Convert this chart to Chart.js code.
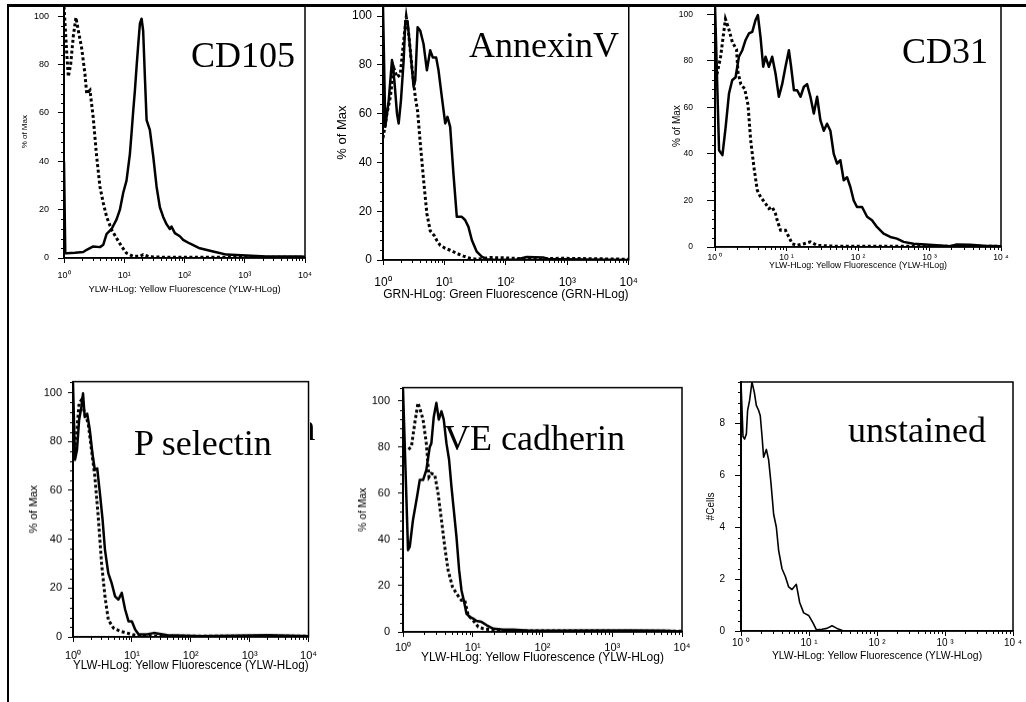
<!DOCTYPE html>
<html>
<head>
<meta charset="utf-8">
<script src="https://cdn.jsdelivr.net/npm/chart.js@4.4.0/dist/chart.umd.min.js"></script>
<style>
body{margin:0;background:#fff;width:1026px;height:702px;overflow:hidden;position:relative}
canvas{position:absolute}
.lbl{position:absolute;font-family:"Liberation Serif","Times New Roman",serif;font-size:36px;line-height:36px;white-space:nowrap;color:#000}
.rule{position:absolute;background:#000}
.clip{position:absolute;overflow:hidden}
</style>
</head>
<body>
<div class="rule" style="left:7px;top:4px;width:1019px;height:3px"></div>
<div class="rule" style="left:7px;top:4px;width:2px;height:698px"></div>

<script>
// x axis: fluorescence (log), y axis: % of max / #cells
const superDigits = ['⁰', '¹', '²', '³', '⁴']
const yellowTitle = 'YLW-HLog: Yellow Fluorescence (YLW-HLog)'
const greenTitle = 'GRN-HLog: Green Fluorescence (GRN-HLog)'

// CD105
const cd105SolidX = [1, 1.05, 1.11, 1.52, 2.09, 2.38, 3.06, 3.95, 4.49, 5.1, 6.17, 7.46, 8.47, 9.62, 10.9, 12.4, 13.2, 14.1, 15.0, 16.0, 17.1, 18.2, 19.4, 20.6, 22.0, 23.5, 26.6, 30.3, 34.4, 39.0, 44.3, 50.3, 57.1, 60.9, 69.2, 83.7, 95, 122, 179, 299, 497, 1066, 2286, 8166, 10000]
const cd105SolidY = [40, 2, 2, 2.2, 2.5, 3.4, 4.8, 4.5, 5.5, 10, 12, 16, 20, 27, 32, 43, 51.5, 61, 69, 79, 88.6, 97, 99, 94, 75, 57, 53, 42, 29.5, 21, 17, 14, 12, 13, 10.3, 9, 7.5, 6, 4, 2.7, 1.4, 1, 0.6, 0.6, 0.5]
const cd105DotX = [1, 1.11, 1.18, 1.29, 1.43, 1.58, 1.73, 1.96, 2.23, 2.38, 2.70, 3.06, 3.48, 3.95, 4.49, 5.1, 6.17, 7.46, 9.03, 10.9, 14.1, 18.2, 20.6, 26.6, 50, 179, 641, 2286, 10000]
const cd105DotY = [104, 85, 75, 80, 92, 99.5, 94, 87, 76, 68, 69.4, 58, 42, 29.5, 22.7, 17, 11.7, 8.2, 4.8, 2, 0.7, 0.7, 1.4, 0.5, 0.3, 0.3, 0.3, 0.3, 0.3]

// AnnexinV
const annexSolidX = [1, 1.09, 1.24, 1.40, 1.53, 1.69, 1.80, 1.96, 2.17, 2.31, 2.51, 2.78, 3.15, 3.35, 3.66, 4.04, 4.57, 5.18, 5.87, 6.48, 7.34, 8.01, 9.08, 10.3, 11.2, 12.4, 14.0, 15.9, 19.2, 21.7, 24.6, 27.9, 33.6, 40.5, 48.9, 71, 150, 218, 406, 500, 859, 10000]
const annexSolidY = [104, 54.6, 65.5, 82, 73.7, 60, 56, 65.5, 82, 98, 98, 86, 71, 73.7, 95.5, 94, 88.6, 77.8, 86, 83, 83, 77.8, 66.8, 56, 58.7, 54.6, 35.5, 17.7, 17.7, 16.4, 13.6, 8.2, 3.4, 1.4, 0.3, 0, 0.2, 1.2, 1.0, 0.3, 0.3, 0]
const annexDotX = [1, 1.16, 1.32, 1.49, 1.69, 1.91, 2.17, 2.39, 2.61, 2.96, 3.35, 3.66, 4.04, 4.57, 5.18, 5.87, 6.82, 7.53, 8.53, 10.3, 12.4, 15.9, 20.4, 26.2, 33.6, 55.3, 91, 192, 460, 859, 2985, 10000]
const annexDotY = [50, 60, 67, 79, 75, 76, 90, 99.6, 93, 79, 67, 61, 48, 33, 19, 12, 10, 8, 6, 4.8, 4, 2.7, 1.6, 0.7, 0.3, 1, 0.9, 0.5, 0.6, 0.7, 0.5, 0.3]

// CD31
const cd31SolidX = [1, 1.14, 1.27, 1.41, 1.57, 1.74, 1.94, 2.16, 2.41, 2.68, 2.98, 3.32, 3.69, 3.98, 4.34, 4.72, 5.09, 5.67, 6.31, 7.02, 7.82, 8.70, 9.68, 10.8, 11.6, 12.7, 14.1, 15.7, 17.5, 19.4, 21.6, 24.1, 26.8, 29.8, 33.2, 36.9, 41.1, 45.8, 50.9, 56.7, 63.1, 70.3, 78.2, 87.1, 96.8, 114, 134, 157, 184, 228, 283, 350, 434, 598, 1265, 1941, 2405, 3690, 5666, 10000]
const cd31SolidY = [104, 41.6, 39.5, 51.6, 66, 71.7, 73, 81.8, 84.6, 89, 91.8, 92.5, 97.6, 99.7, 90, 77.5, 81.8, 77.5, 81.8, 74.6, 64.6, 70, 77.5, 84.6, 77.5, 67.4, 67.4, 64.6, 68.9, 70, 64.6, 57.4, 64.6, 54.5, 50, 53, 50, 40, 35.9, 37.3, 28.7, 30, 25.8, 20, 17.2, 17.2, 13, 11.5, 8.6, 5.7, 4.3, 3.6, 2.2, 1.4, 0.7, 0.3, 1.1, 1.0, 0.5, 0.3]
const cd31DotX = [1, 1.08, 1.2, 1.4, 1.55, 1.75, 2.0, 2.1, 2.3, 2.6, 2.9, 3.15, 3.50, 3.90, 4.34, 5.09, 5.67, 6.31, 7.02, 7.41, 8.25, 9.68, 10.8, 12.0, 14.1, 17.5, 21.6, 26.8, 50.9, 10000]
const cd31DotY = [72, 75, 82, 98, 94, 88, 85, 75, 70, 68, 61, 46, 34.4, 24.4, 21.5, 18.7, 16.5, 17.2, 14.3, 11.5, 7.2, 7.2, 4.3, 1.4, 0.7, 1.4, 2.2, 0.7, 0.3, 0.3]

// P selectin
const pselSolidX = [1, 1.08, 1.17, 1.27, 1.39, 1.48, 1.58, 1.74, 1.93, 2.14, 2.35, 2.58, 2.86, 3.18, 3.49, 3.98, 4.54, 5.18, 5.91, 6.74, 7.69, 8.77, 10.0, 11.4, 13.0, 18.1, 23.5, 39.8, 148, 2061, 10000]
const pselSolidY = [104, 72.5, 76.6, 88.8, 94.3, 99.7, 90, 91.4, 84.7, 75, 68.4, 69, 59, 48, 35.7, 26, 22, 16.6, 15.3, 18, 11.2, 6.4, 6.4, 3, 1, 1, 1.6, 0.7, 0.3, 0.7, 0.3]
const pselDotX = [1, 1.14, 1.27, 1.39, 1.58, 1.81, 2.06, 2.35, 2.68, 3.06, 3.49, 3.98, 4.85, 6.31, 8.21, 10, 13.9, 10000]
const pselDotY = [74, 82, 95.6, 97, 91.4, 87.5, 76.6, 65.7, 49.3, 30, 16.6, 7, 3.7, 2.3, 1.6, 1, 0.3, 0.3]

// VE cadherin
const vecadSolidX = [1, 1.18, 1.25, 1.39, 1.59, 1.74, 1.94, 2.16, 2.42, 2.55, 2.76, 3.01, 3.26, 3.56, 3.84, 4.20, 4.58, 4.95, 5.35, 5.84, 6.38, 6.89, 7.44, 8.13, 9.08, 10.1, 11.3, 13.4, 15.8, 19.7, 27.4, 38.1, 66.1, 1808, 5453, 10000]
const vecadSolidY = [105, 35.4, 36.8, 48.4, 58.5, 65.7, 65.7, 70, 80, 81.5, 93, 99, 91.8, 95.4, 91.8, 81.5, 74.4, 62.9, 52.7, 41.2, 26.7, 18, 13.7, 7.9, 6.5, 5.8, 4.8, 4.3, 2.9, 1.4, 1, 1, 0.5, 0.7, 0.5, 0.2]
const vecadDotX = [1, 1.18, 1.32, 1.47, 1.64, 1.77, 1.94, 2.16, 2.36, 2.55, 2.85, 3.18, 3.56, 3.97, 4.43, 5.12, 5.84, 6.89, 7.69, 8.59, 10.1, 12.0, 14.1, 17.6, 27.4, 10000]
const vecadDotY = [79, 78.8, 80, 90, 99, 96, 91.8, 81.5, 67, 68.5, 68, 60, 48.4, 36.8, 26.7, 19.5, 16.6, 13.7, 13.7, 7.2, 5, 2.2, 1.4, 1, 0.5, 0.3]

// unstained (#Cells)
const unstSolidX = [1, 1.07, 1.13, 1.20, 1.25, 1.34, 1.45, 1.57, 1.68, 1.82, 1.92, 2.04, 2.15, 2.36, 2.55, 2.76, 3.02, 3.31, 3.58, 4.01, 4.49, 5.02, 5.62, 6.51, 7.29, 8.35, 9.89, 11.5, 12.8, 15.5, 18.4, 21.8, 25.8, 32.3, 10000]
const unstSolidY = [9.6, 7.5, 7.4, 7.6, 8.5, 8.9, 9.6, 9.2, 8.7, 8.5, 8.3, 7.5, 6.7, 7.0, 6.6, 5.7, 4.5, 4.0, 3.1, 2.4, 2.1, 1.7, 1.6, 1.8, 1.1, 0.7, 0.6, 0.3, 0.05, 0.07, 0.1, 0.2, 0.1, 0, 0]

// log tick positions 1..9, 10..90, ... 10000
const logTicks = []
for (let e = 0; e < 4; e++) {
  for (let s = 1; s < 10; s++) logTicks.push(s * Math.pow(10, e))
}
logTicks.push(10000)

function isDecade(v) {
  var lg = Math.log10(v)
  return Math.abs(lg - Math.round(lg)) < 1e-9
}

function pts(xs, ys) {
  return xs.map((x, i) => ({ x: x, y: ys[i] }))
}

const frame = {
  id: 'frame',
  afterDraw(chart) {
    const a = chart.chartArea
    const ctx = chart.ctx
    ctx.save()
    ctx.strokeStyle = '#000'
    ctx.lineWidth = 1.5
    ctx.strokeRect(a.left, a.top, a.right - a.left, a.bottom - a.top)
    ctx.restore()
  }
}

const minorTicks = {
  id: 'minorTicks',
  afterDraw(chart, args, opts) {
    const ctx = chart.ctx
    const x = chart.scales.x
    const y = chart.scales.y
    ctx.save()
    ctx.strokeStyle = '#000'
    ctx.lineWidth = 1
    ctx.beginPath()
    x.ticks.forEach(t => {
      if (!isDecade(t.value)) {
        var px = Math.round(x.getPixelForValue(t.value)) + 0.5
        ctx.moveTo(px, x.top)
        ctx.lineTo(px, x.top + 3)
      }
    })
    y.ticks.forEach(t => {
      if (!opts.isLabel(t.value)) {
        var py = Math.round(y.getPixelForValue(t.value)) + 0.5
        ctx.moveTo(y.right - 3, py)
        ctx.lineTo(y.right, py)
      }
    })
    ctx.stroke()
    ctx.restore()
  }
}

const panels = [
  { L: 64, T: 5, R: 305, B: 258, yw: 44, xh: 37, yMax: 104.5, step: 4, every: 20,
    tickFont: 9, yTitleFont: 8, xTitleFont: 9.5, yTick: 6, yPad: 9, xTick: 5, xPad: 7, gap: false,
    yTitle: '% of Max', xTitle: yellowTitle, solidW: 2.5,
    sx: cd105SolidX, sy: cd105SolidY, dx: cd105DotX, dy: cd105DotY },
  { L: 383, T: 5, R: 629, B: 260, yw: 48, xh: 42, yMax: 104.5, step: 4, every: 20,
    tickFont: 12, yTitleFont: 13, xTitleFont: 12, yTick: 6, yPad: 5, xTick: 5, xPad: 10, gap: false,
    yTitle: '% of Max', xTitle: greenTitle, solidW: 2.5,
    sx: annexSolidX, sy: annexSolidY, dx: annexDotX, dy: annexDotY },
  { L: 715, T: 5, R: 1001, B: 247, yw: 44, xh: 24, yMax: 104, step: 4, every: 20,
    tickFont: 8.5, yTitleFont: 10, xTitleFont: 8.8, yTick: 8, yPad: 14, xTick: 4, xPad: 2, gap: true,
    yTitle: '% of Max', xTitle: yellowTitle, solidW: 2.5,
    sx: cd31SolidX, sy: cd31SolidY, dx: cd31DotX, dy: cd31DotY },
  { L: 73, T: 382, R: 309, B: 637, yw: 46, xh: 36, yMax: 104.5, step: 4, every: 20,
    tickFont: 11, yTitleFont: 11.5, xTitleFont: 12, yTick: 5, yPad: 6, xTick: 5, xPad: 7, gap: false,
    yTitle: '% of Max', xTitle: yellowTitle, solidW: 2.5,
    sx: pselSolidX, sy: pselSolidY, dx: pselDotX, dy: pselDotY },
  { L: 403, T: 388, R: 682, B: 632, yw: 46, xh: 33, yMax: 105.6, step: 4, every: 20,
    tickFont: 11, yTitleFont: 10.5, xTitleFont: 12, yTick: 5, yPad: 8, xTick: 5, xPad: 4, gap: false,
    yTitle: '% of Max', xTitle: yellowTitle, solidW: 2.5,
    sx: vecadSolidX, sy: vecadSolidY, dx: vecadDotX, dy: vecadDotY },
  { L: 741, T: 382, R: 1013, B: 631, yw: 36, xh: 31, yMax: 9.6, step: 0.4, every: 2,
    tickFont: 10, yTitleFont: 10, xTitleFont: 10.4, yTick: 6, yPad: 10, xTick: 5, xPad: 1, gap: true,
    yTitle: '#Cells', xTitle: yellowTitle, solidW: 1.6,
    sx: unstSolidX, sy: unstSolidY, dx: null, dy: null }
]

const padT = 8
const padR = 14
const sansFont = '"Liberation Sans", Arial, sans-serif'

function chartConfig(p) {
  const isLabel = v => Math.abs(v / p.every - Math.round(v / p.every)) < 1e-6

  const datasets = []
  if (p.dx) {
    datasets.push({
      data: pts(p.dx, p.dy), borderColor: '#000', borderWidth: 3,
      borderDash: [3, 2.5], pointRadius: 0, tension: 0, fill: false
    })
  }
  datasets.push({
    data: pts(p.sx, p.sy), borderColor: '#000', borderWidth: p.solidW,
    pointRadius: 0, tension: 0, fill: false, borderJoinStyle: 'round'
  })

  return {
    type: 'line',
    data: { datasets: datasets },
    options: {
      responsive: false,
      maintainAspectRatio: false,
      animation: false,
      events: [],
      layout: { padding: { top: padT, right: padR, left: 0, bottom: 0 } },
      plugins: {
        legend: { display: false },
        tooltip: { enabled: false },
        minorTicks: { isLabel: isLabel }
      },
      scales: {
        x: {
          type: 'logarithmic', min: 1, max: 10000,
          afterBuildTicks: s => { s.ticks = logTicks.map(v => ({ value: v })) },
          afterFit: s => { s.height = p.xh },
          border: { display: true, color: '#000', width: 1.5 },
          grid: {
            drawOnChartArea: false, tickLength: p.xTick, tickWidth: 1,
            tickColor: c => isDecade(c.tick.value) ? '#000' : 'rgba(0,0,0,0)'
          },
          ticks: {
            autoSkip: false, maxRotation: 0, minRotation: 0, padding: p.xPad, color: '#000',
            font: { family: sansFont, size: p.tickFont },
            callback: v => isDecade(v) ? '10' + (p.gap ? ' ' : '') + superDigits[Math.round(Math.log10(v))] : ''
          },
          title: { display: true, text: p.xTitle, color: '#000', padding: 0,
                   font: { family: sansFont, size: p.xTitleFont } }
        },
        y: {
          min: 0, max: p.yMax,
          afterFit: s => { s.width = p.yw },
          border: { display: true, color: '#000', width: 2 },
          grid: {
            drawOnChartArea: false, tickLength: p.yTick, tickWidth: 1,
            tickColor: c => isLabel(c.tick.value) ? '#000' : 'rgba(0,0,0,0)'
          },
          ticks: {
            stepSize: p.step, autoSkip: false, padding: p.yPad, color: '#000',
            font: { family: sansFont, size: p.tickFont },
            callback: v => isLabel(v) ? String(Math.round(v)) : ''
          },
          title: { display: true, text: p.yTitle, color: '#000', padding: 0,
                   font: { family: sansFont, size: p.yTitleFont } }
        }
      }
    },
    plugins: [frame, minorTicks]
  }
}

function makePanel(p) {
  const cv = document.createElement('canvas')
  document.body.appendChild(cv)
  let w = (p.R - p.L) + p.yw + padR
  let h = (p.B - p.T) + padT + p.xh
  cv.width = w
  cv.height = h
  cv.style.width = w + 'px'
  cv.style.height = h + 'px'
  let chart = new Chart(cv, chartConfig(p))

  // first pass: see where the plot area landed, then size the canvas so it matches
  const a = chart.chartArea
  w += (p.R - p.L) - (a.right - a.left)
  h += (p.B - p.T) - (a.bottom - a.top)
  chart.destroy()
  cv.width = w
  cv.height = h
  cv.style.width = w + 'px'
  cv.style.height = h + 'px'
  chart = new Chart(cv, chartConfig(p))

  const b = chart.chartArea
  cv.style.left = (p.L - b.left) + 'px'
  cv.style.top = (p.T - b.top) + 'px'
}

panels.forEach(makePanel)
</script>

<div class="lbl" style="left:191px;top:37px">CD105</div>
<div class="lbl" style="left:469px;top:27px">AnnexinV</div>
<div class="lbl" style="left:902px;top:33px">CD31</div>
<div class="lbl" style="left:134px;top:425px">P selectin</div>
<div class="lbl" style="left:444px;top:420px">VE cadherin</div>
<div class="lbl" style="left:848px;top:412px">unstained</div>
<div class="clip" style="left:310px;top:405px;width:7px;height:40px">
  <span class="lbl" style="left:-13px;top:5px;font-size:37px">n</span>
</div>
</body>
</html>
